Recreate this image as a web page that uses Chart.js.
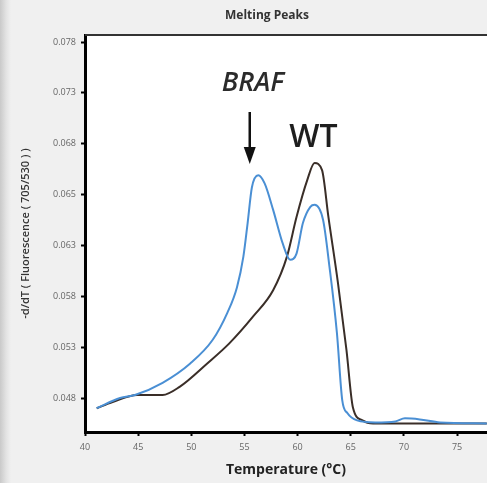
<!DOCTYPE html>
<html>
<head>
<meta charset="utf-8">
<script src="https://cdn.jsdelivr.net/npm/chart.js@4.4.1/dist/chart.umd.min.js"></script>
<style>
  html, body { margin: 0; padding: 0; }
  body {
    width: 487px; height: 483px; overflow: hidden;
    background: linear-gradient(to right, #c9c9c9 0px, #e2e2e2 6px, #f0f0f0 11px, #f0f0f0 100%);
  }
  canvas { display: block; }
</style>
</head>
<body>
<canvas id="melt" width="487" height="483"></canvas>
<script>
// Melting peaks, -d/dT fluorescence vs temperature
const yTickLabels = ['0.048', '0.053', '0.058', '0.063', '0.065', '0.068', '0.073', '0.078'];
const xTickLabels = ['40', '45', '50', '55', '60', '65', '70', '75'];

// BRAF mutant sample (blue)
const brafTemp = [41.1, 43.3, 44.7, 47.3, 49.9, 52.0, 53.4, 54.3, 54.9, 55.3, 55.7, 56.3, 56.9, 57.7, 58.6, 59.3, 59.9, 60.5, 61.2, 61.6, 62.4, 63.0, 63.7, 64.2, 64.7, 65.6, 67.3, 69.2, 70.1, 71.5, 73.4, 77.8];
const brafVal = [0.0470, 0.0480, 0.0483, 0.0495, 0.0514, 0.0537, 0.0564, 0.0589, 0.0619, 0.0652, 0.0687, 0.0699, 0.0691, 0.0665, 0.0632, 0.0616, 0.0622, 0.0652, 0.0668, 0.0670, 0.0655, 0.0609, 0.0544, 0.0478, 0.0465, 0.0458, 0.0456, 0.0457, 0.0460, 0.0459, 0.0456, 0.0455];

// wild type sample (dark)
const wtTemp = [41.1, 42.6, 44.9, 47.3, 48.9, 51.5, 53.6, 55.8, 57.7, 59.0, 59.9, 60.9, 61.6, 62.3, 62.9, 63.8, 64.6, 65.2, 66.1, 67.1, 77.8];
const wtVal = [0.0470, 0.0476, 0.0483, 0.0483, 0.0491, 0.0514, 0.0534, 0.0560, 0.0586, 0.0619, 0.0658, 0.0694, 0.0711, 0.0704, 0.0658, 0.0593, 0.0527, 0.0471, 0.0458, 0.0455, 0.0455];

const toPoints = (xs, ys) => xs.map((x, i) => ({ x: x, y: ys[i] }));

// white plot area + top border
const plotBox = {
  id: 'plotBox',
  beforeDraw(chart) {
    const a = chart.chartArea;
    const ctx = chart.ctx;
    ctx.save();
    ctx.fillStyle = '#ffffff';
    ctx.fillRect(a.left, a.top, a.right - a.left, a.bottom - a.top);
    ctx.restore();
  },
  afterDraw(chart) {
    const a = chart.chartArea;
    const ctx = chart.ctx;
    ctx.save();
    ctx.strokeStyle = '#333333';
    ctx.lineWidth = 2;
    ctx.beginPath();
    ctx.moveTo(a.left, a.top);
    ctx.lineTo(a.right, a.top);
    ctx.stroke();

    // title
    ctx.fillStyle = '#333333';
    ctx.font = 'bold 12px "Open Sans"';
    ctx.textAlign = 'center';
    ctx.textBaseline = 'middle';
    ctx.fillText('Melting Peaks', 267, 16);

    // labels on the peaks
    const xs = chart.scales.x;
    const bx = xs.getPixelForValue(55.5);
    ctx.fillStyle = '#2b2b2b';
    ctx.font = 'italic 600 27px "Open Sans"';
    ctx.textAlign = 'center';
    ctx.fillText('BRAF', bx + 3, 83);

    ctx.strokeStyle = '#111111';
    ctx.lineWidth = 2.5;
    ctx.beginPath();
    ctx.moveTo(bx, 112);
    ctx.lineTo(bx, 150);
    ctx.stroke();
    ctx.fillStyle = '#111111';
    ctx.beginPath();
    ctx.moveTo(bx - 6, 147);
    ctx.lineTo(bx + 6, 147);
    ctx.lineTo(bx, 164);
    ctx.closePath();
    ctx.fill();

    ctx.fillStyle = '#1e1e1e';
    ctx.font = '600 32px "Open Sans"';
    ctx.fillText('WT', xs.getPixelForValue(61.5), 138);
    ctx.restore();
  }
};

new Chart(document.getElementById('melt'), {
  type: 'line',
  data: {
    datasets: [
      {
        label: 'BRAF',
        data: toPoints(brafTemp, brafVal),
        borderColor: '#4a8fd4',
        borderWidth: 2,
        pointRadius: 0,
        fill: false,
        tension: 0.4,
        cubicInterpolationMode: 'monotone'
      },
      {
        label: 'WT',
        data: toPoints(wtTemp, wtVal),
        borderColor: '#3a2e28',
        borderWidth: 2,
        pointRadius: 0,
        fill: false,
        tension: 0.4,
        cubicInterpolationMode: 'monotone'
      }
    ]
  },
  options: {
    responsive: false,
    animation: false,
    layout: { padding: { top: 35, left: 0, right: 0, bottom: 0 } },
    plugins: {
      legend: { display: false },
      tooltip: { enabled: false },
      title: { display: false }
    },
    scales: {
      x: {
        type: 'linear',
        min: 40,
        max: 77.82,
        afterBuildTicks: (scale) => {
          scale.ticks = xTickLabels.map(v => ({ value: Number(v) }));
        },
        afterFit: (scale) => { scale.height = 51; },
        ticks: {
          padding: 6,
          color: '#666666',
          font: { family: 'Open Sans', size: 9 },
          callback: (v) => String(v)
        },
        grid: { drawOnChartArea: false, drawTicks: true, tickLength: 4, tickWidth: 2, color: '#000000' },
        border: { display: true, color: '#000000', width: 3 },
        title: {
          display: true,
          text: 'Temperature (°C)',
          color: '#222222',
          font: { family: 'Open Sans', size: 14, weight: 'bold' },
          padding: { top: 0, bottom: 5 }
        }
      },
      y: {
        type: 'linear',
        min: 0.04466,
        max: 0.08369,
        afterBuildTicks: (scale) => {
          scale.ticks = yTickLabels.map((l, i) => ({ value: 0.048 + 0.005 * i }));
        },
        afterFit: (scale) => { scale.width = 85; },
        ticks: {
          padding: 5,
          color: '#666666',
          font: { family: 'Open Sans', size: 9 },
          callback: (v) => yTickLabels[Math.round((v - 0.048) / 0.005)]
        },
        grid: { drawOnChartArea: false, drawTicks: true, tickLength: 4, tickWidth: 2, color: '#000000' },
        border: { display: true, color: '#000000', width: 3 },
        title: {
          display: true,
          text: '-d/dT ( Fluorescence ( 705/530 ) )',
          color: '#333333',
          font: { family: 'Open Sans', size: 11, weight: '600' },
          padding: { top: 19, bottom: 0 }
        }
      }
    }
  },
  plugins: [plotBox]
});
</script>
</body>
</html>
